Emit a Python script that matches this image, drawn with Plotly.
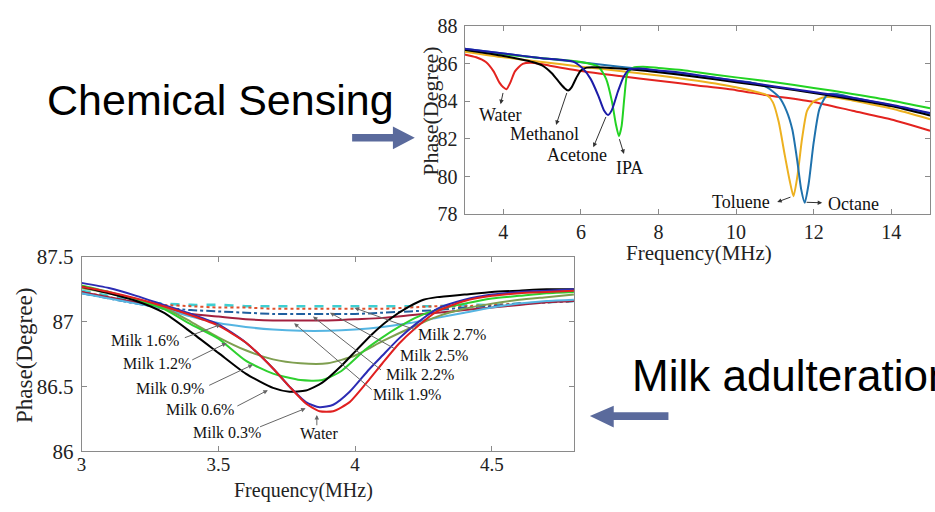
import plotly.graph_objects as go

W, H = 935, 512

# ---------------- Top chart: chemical sensing ----------------
chem_names = ["Water", "Methanol", "Acetone", "IPA", "Toluene", "Octane"]
chem_colors = ["#e3231f", "#000000", "#1c1ca8", "#22d322", "#edb120", "#1f72ad"]

water_f = [3, 3.3, 3.55, 3.75, 3.9, 4.0, 4.08, 4.18, 4.3, 4.5, 4.8, 5.2, 6, 7, 8, 9, 10, 10.8, 12, 13, 14, 15]
water_v = [86.5, 86.35, 86.1, 85.6, 85.0, 84.75, 84.65, 85.0, 85.6, 86.0, 86.05, 85.9, 85.62, 85.35, 85.1, 84.85, 84.6, 84.33, 83.97, 83.5, 83.04, 82.44]

methanol_f = [3, 4, 4.5, 4.75, 5.0, 5.25, 5.45, 5.58, 5.67, 5.76, 5.88, 6.0, 6.15, 7, 8, 9, 10, 11, 12, 13, 14, 15]
methanol_v = [86.75, 86.42, 86.22, 86.1, 85.92, 85.5, 85.0, 84.7, 84.58, 84.75, 85.25, 85.65, 85.8, 85.75, 85.55, 85.3, 85.02, 84.75, 84.45, 84.12, 83.75, 83.25]

acetone_f = [3, 4, 5, 5.8, 6.05, 6.25, 6.45, 6.6, 6.7, 6.8, 6.95, 7.1, 7.25, 7.5, 8, 8.6, 9, 10, 11, 12, 13, 14, 15]
acetone_v = [86.8, 86.55, 86.3, 86.12, 85.75, 85.2, 84.3, 83.5, 83.28, 83.55, 84.5, 85.3, 85.7, 85.75, 85.65, 85.53, 85.4, 85.1, 84.8, 84.5, 84.2, 83.82, 83.38]

ipa_f = [3, 4, 5, 6, 6.45, 6.65, 6.8, 6.9, 6.98, 7.05, 7.12, 7.2, 7.35, 7.6, 8, 8.6, 9, 10, 11, 12, 13, 14, 15]
ipa_v = [86.75, 86.5, 86.3, 86.1, 85.85, 85.2, 84.0, 82.8, 82.15, 82.7, 84.2, 85.5, 85.8, 85.85, 85.78, 85.67, 85.55, 85.28, 85.02, 84.72, 84.4, 84.05, 83.63]

toluene_f = [3, 4, 5, 6, 7, 8, 9, 10, 10.8, 10.95, 11.1, 11.25, 11.38, 11.48, 11.58, 11.7, 11.83, 12.0, 12.28, 12.6, 13, 14, 15]
toluene_v = [86.65, 86.35, 86.1, 85.85, 85.62, 85.38, 85.1, 84.75, 84.33, 83.95, 82.9, 81.2, 79.8, 78.95, 80.0, 82.0, 83.5, 84.0, 84.22, 84.2, 84.05, 83.62, 83.05]

octane_f = [3, 4, 5, 6, 7, 8, 9, 10, 10.4, 10.8, 11.1, 11.3, 11.45, 11.58, 11.68, 11.77, 11.87, 12.0, 12.15, 12.35, 12.6, 13, 14, 15]
octane_v = [86.8, 86.55, 86.3, 86.08, 85.85, 85.62, 85.38, 85.1, 85.0, 84.75, 84.25, 83.5, 82.5, 80.8, 79.3, 78.6, 79.6, 81.8, 83.6, 84.35, 84.4, 84.2, 83.8, 83.35]

chem_series = [(water_f, water_v), (methanol_f, methanol_v), (acetone_f, acetone_v),
               (ipa_f, ipa_v), (toluene_f, toluene_v), (octane_f, octane_v)]
chem_draw_order = [0, 4, 5, 3, 1, 2]

# label text position, arrow tail, arrow tip (data units)
chem_label_pos = [(3.93, 83.25), (5.05, 82.24), (5.89, 81.14), (7.26, 80.46), (10.14, 78.63), (13.04, 78.54)]
chem_arrow_tail = [(4.0, 84.53), (5.65, 84.53), (6.66, 83.25), (6.98, 82.07), (11.44, 78.93), (11.78, 78.63)]
chem_arrow_tip = [(3.93, 83.85), (5.36, 82.75), (6.32, 81.56), (7.11, 81.2), (11.06, 78.64), (12.22, 78.6)]

top_xticks = [4, 6, 8, 10, 12, 14]
top_yticks = [78, 80, 82, 84, 86, 88]

# ---------------- Bottom chart: milk adulteration ----------------
milk_names = ["Water", "Milk 0.3%", "Milk 0.6%", "Milk 0.9%", "Milk 1.2%", "Milk 1.6%",
              "Milk 1.9%", "Milk 2.2%", "Milk 2.5%", "Milk 2.7%"]
milk_colors = ["#e02020", "#2c2cb4", "#000000", "#2fd02f", "#7f9f50", "#55b5e2",
               "#a3203e", "#1f5f9f", "#e0502c", "#3fcfd2"]
milk_dash = ["solid", "solid", "solid", "solid", "solid", "solid", "solid", "dashdot", "dot", "dash"]

f_a = [3.0, 3.1, 3.2, 3.3, 3.4, 3.5, 3.6, 3.7, 3.76, 3.82, 3.87, 3.92, 3.98, 4.05, 4.1, 4.16, 4.22, 4.3, 4.4, 4.5, 4.6, 4.7, 4.8]
water_milk_v = [87.27, 87.23, 87.18, 87.12, 87.05, 86.97, 86.84, 86.64, 86.50, 86.37, 86.31, 86.31, 86.38, 86.55, 86.68, 86.83, 86.95, 87.08, 87.16, 87.20, 87.22, 87.23, 87.24]
milk03_v = [87.30, 87.26, 87.20, 87.13, 87.06, 86.98, 86.84, 86.64, 86.50, 86.38, 86.34, 86.36, 86.46, 86.63, 86.74, 86.87, 86.98, 87.10, 87.17, 87.21, 87.23, 87.24, 87.25]

f_b = [3.0, 3.1, 3.2, 3.3, 3.4, 3.5, 3.6, 3.7, 3.76, 3.82, 3.88, 3.95, 4.0, 4.06, 4.12, 4.2, 4.25, 4.3, 4.4, 4.5, 4.6, 4.7, 4.8]
milk06_v = [87.27, 87.22, 87.16, 87.07, 86.92, 86.76, 86.60, 86.49, 86.46, 86.47, 86.53, 86.66, 86.77, 86.90, 87.01, 87.12, 87.17, 87.19, 87.21, 87.23, 87.24, 87.25, 87.25]

f_c = [3.0, 3.1, 3.2, 3.3, 3.4, 3.5, 3.6, 3.7, 3.8, 3.88, 3.95, 4.04, 4.1, 4.16, 4.22, 4.28, 4.4, 4.5, 4.6, 4.7, 4.8]
milk09_v = [87.28, 87.23, 87.17, 87.10, 86.98, 86.87, 86.70, 86.60, 86.55, 86.55, 86.62, 86.79, 86.88, 86.96, 87.03, 87.08, 87.14, 87.18, 87.20, 87.22, 87.23]

f_d = [3.0, 3.1, 3.2, 3.3, 3.4, 3.5, 3.6, 3.7, 3.8, 3.9, 4.0, 4.1, 4.2, 4.3, 4.4, 4.5, 4.6, 4.7, 4.8]
milk12_v = [87.26, 87.22, 87.17, 87.11, 87.00, 86.88, 86.78, 86.71, 86.68, 86.68, 86.74, 86.85, 86.95, 87.04, 87.10, 87.14, 87.17, 87.19, 87.21]
milk16_v = [87.22, 87.18, 87.14, 87.10, 87.04, 86.99, 86.96, 86.94, 86.93, 86.93, 86.94, 86.96, 86.99, 87.03, 87.07, 87.11, 87.14, 87.16, 87.17]
milk19_v = [87.23, 87.19, 87.15, 87.10, 87.06, 87.04, 87.02, 87.01, 87.01, 87.01, 87.02, 87.03, 87.05, 87.07, 87.09, 87.11, 87.13, 87.15, 87.16]
milk22_v = [87.22, 87.18, 87.14, 87.11, 87.09, 87.08, 87.07, 87.06, 87.06, 87.06, 87.06, 87.07, 87.08, 87.09, 87.11, 87.12, 87.14, 87.15, 87.16]
milk25_v = [87.23, 87.19, 87.15, 87.13, 87.12, 87.11, 87.11, 87.10, 87.10, 87.10, 87.10, 87.10, 87.11, 87.12, 87.12, 87.13, 87.14, 87.15, 87.16]
milk27_v = [87.24, 87.20, 87.16, 87.14, 87.13, 87.13, 87.12, 87.12, 87.12, 87.12, 87.12, 87.12, 87.12, 87.12, 87.13, 87.13, 87.14, 87.15, 87.16]

milk_series = [(f_a, water_milk_v), (f_a, milk03_v), (f_b, milk06_v), (f_c, milk09_v), (f_d, milk12_v),
               (f_d, milk16_v), (f_d, milk19_v), (f_d, milk22_v), (f_d, milk25_v), (f_d, milk27_v)]
milk_draw_order = [9, 8, 7, 6, 5, 4, 3, 2, 1, 0]

milk_label_pos = [(3.867, 86.135), (3.53, 86.148), (3.433, 86.32), (3.323, 86.487), (3.275, 86.676),
                  (3.231, 86.856), (4.19, 86.438), (4.238, 86.595), (4.287, 86.743), (4.355, 86.898)]
milk_arrow_tail = [(3.86, 86.19), (3.647, 86.185), (3.564, 86.344), (3.461, 86.504), (3.399, 86.70),
                   (3.372, 86.873), (4.066, 86.467), (4.10, 86.62), (4.149, 86.787), (4.225, 86.934)]
milk_arrow_tip = [(3.86, 86.28), (3.819, 86.332), (3.681, 86.472), (3.626, 86.669), (3.530, 86.836),
                  (3.509, 86.979), (3.777, 86.989), (3.846, 87.04), (3.908, 87.07), (3.998, 87.107)]

bot_xticks = [3, 3.5, 4, 4.5]
bot_xticktext = ["3", "3.5", "4", "4.5"]
bot_yticks = [86, 86.5, 87, 87.5]
bot_yticktext = ["86", "86.5", "87", "87.5"]

# ---------------- Figure ----------------
SERIF = "Liberation Serif, Times New Roman, serif"
SANS = "Liberation Sans, Arial, sans-serif"


def px(x):
    return x / W


def py(y):
    return 1 - y / H


fig = go.Figure()
for i in chem_draw_order:
    f, v = chem_series[i]
    fig.add_trace(go.Scatter(x=f, y=v, mode="lines", name=chem_names[i],
                             line=dict(color=chem_colors[i], width=2, shape="spline", smoothing=0.6),
                             xaxis="x", yaxis="y", showlegend=False))
for i in milk_draw_order:
    f, v = milk_series[i]
    fig.add_trace(go.Scatter(x=f, y=v, mode="lines", name=milk_names[i],
                             line=dict(color=milk_colors[i], width=2.6 if i == 9 else 2,
                                       dash=milk_dash[i], shape="spline", smoothing=0.6),
                             xaxis="x2", yaxis="y2", showlegend=False))


def axis_common(size):
    return dict(showline=True, linecolor="#8a8a8a", linewidth=1, mirror="ticks",
                ticks="inside", ticklen=5, tickcolor="#8a8a8a", showgrid=False, zeroline=False,
                tickfont=dict(family=SERIF, size=size, color="#222"))


fig.update_layout(
    width=W, height=H, margin=dict(l=0, r=0, t=0, b=0),
    paper_bgcolor="white", plot_bgcolor="white", showlegend=False,
    xaxis=dict(domain=[px(462), px(930)], range=[3, 15], tickvals=top_xticks,
               anchor="y", ticklabelstandoff=0, **axis_common(20)),
    yaxis=dict(domain=[py(212), py(15)], range=[78, 88], tickvals=top_yticks,
               anchor="x", ticklabelstandoff=2, **axis_common(20)),
    xaxis2=dict(domain=[px(77), px(572)], range=[3, 4.8], tickvals=bot_xticks, ticktext=bot_xticktext,
                anchor="y2", ticklabelstandoff=-4, **axis_common(19)),
    yaxis2=dict(domain=[py(461), py(257)], range=[86, 87.5], tickvals=bot_yticks, ticktext=bot_yticktext,
                anchor="x2", ticklabelstandoff=3, **axis_common(21)),
)

ann = []
# axis titles
ann.append(dict(text="Frequency(MHz)", x=px(698), y=py(253), xref="paper", yref="paper",
                showarrow=False, font=dict(family=SERIF, size=21, color="#222"),
                xanchor="center", yanchor="middle"))
ann.append(dict(text="Phase(Degree)", x=px(427), y=py(104), xref="paper", yref="paper",
                showarrow=False, font=dict(family=SERIF, size=22, color="#222"),
                textangle=-90, xanchor="center", yanchor="middle"))
ann.append(dict(text="Frequency(MHz)", x=px(300), y=py(515), xref="paper", yref="paper",
                showarrow=False, font=dict(family=SERIF, size=20, color="#222"),
                xanchor="center", yanchor="bottom", borderpad=0))
ann.append(dict(text="Phase(Degree)", x=px(19), y=py(360), xref="paper", yref="paper",
                showarrow=False, font=dict(family=SERIF, size=23, color="#222"),
                textangle=-90, xanchor="center", yanchor="middle"))

# chemical labels + arrows
for i, name in enumerate(chem_names):
    tx, ty = chem_label_pos[i]
    ann.append(dict(text=name, x=tx, y=ty, xref="x", yref="y", showarrow=False,
                    font=dict(family=SERIF, size=18, color="#111")))
    ax_, ay_ = chem_arrow_tail[i]
    bx, by = chem_arrow_tip[i]
    ann.append(dict(text="", x=bx, y=by, ax=ax_, ay=ay_, xref="x", yref="y", axref="x", ayref="y",
                    showarrow=True, arrowhead=2, arrowsize=0.9, arrowwidth=1, arrowcolor="#333"))

# milk labels + arrows
for i, name in enumerate(milk_names):
    tx, ty = milk_label_pos[i]
    ann.append(dict(text=name, x=tx, y=ty, xref="x2", yref="y2", showarrow=False,
                    font=dict(family=SERIF, size=16, color="#111")))
    ax_, ay_ = milk_arrow_tail[i]
    bx, by = milk_arrow_tip[i]
    ann.append(dict(text="", x=bx, y=by, ax=ax_, ay=ay_, xref="x2", yref="y2", axref="x2", ayref="y2",
                    showarrow=True, arrowhead=2, arrowsize=0.9, arrowwidth=1, arrowcolor="#666"))

# big captions (the second one runs off the right edge, as in the reference)
ann.append(dict(text="Chemical Sensing", x=px(40), y=py(92), xref="paper", yref="paper",
                showarrow=False, xanchor="left", yanchor="middle",
                font=dict(family=SANS, size=43, color="#000")))
ann.append(dict(text="Milk adulteration", x=px(628), y=py(381), xref="paper", yref="paper",
                showarrow=False, xanchor="left", yanchor="middle",
                font=dict(family=SANS, size=44, color="#000")))
fig.update_layout(annotations=ann)


def poly(points):
    return "M " + " L ".join(f"{px(x):.5f},{py(y):.5f}" for x, y in points) + " Z"


arrow_color = "#5a6a9c"
right_arrow = [(349, 128), (390, 128), (390, 120), (412, 132), (390, 144), (390, 136), (349, 136)]
left_arrow = [(588, 424), (612, 413), (612, 420), (667, 420), (667, 428), (612, 428), (612, 436)]
fig.update_layout(shapes=[
    dict(type="path", path=poly(right_arrow), xref="paper", yref="paper",
         fillcolor=arrow_color, line=dict(width=0)),
    dict(type="path", path=poly(left_arrow), xref="paper", yref="paper",
         fillcolor=arrow_color, line=dict(width=0)),
])

fig.write_html("out.html")
